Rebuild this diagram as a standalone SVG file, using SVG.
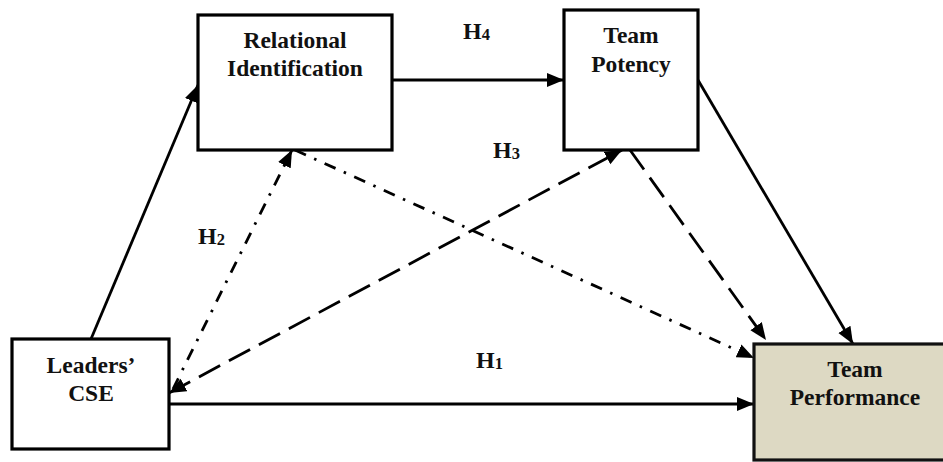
<svg xmlns="http://www.w3.org/2000/svg" width="943" height="462" viewBox="0 0 943 462">
<defs>
<marker id="ah" markerUnits="userSpaceOnUse" markerWidth="18" markerHeight="15" refX="17" refY="7" orient="auto-start-reverse" viewBox="0 0 18 14">
<path d="M0,0 L17,7 L0,14 z" fill="#000"/>
</marker>
<style>
.box{fill:#fff;stroke:#000;stroke-width:3.2}
.perf{fill:#DDD9C3;stroke:#111;stroke-width:3.2}
.t{font-family:"Liberation Serif","Times New Roman",serif;font-weight:bold;font-size:23.5px;fill:#111;text-anchor:middle}
.h{font-family:"Liberation Serif","Times New Roman",serif;font-weight:bold;font-size:24px;fill:#111}
.sub{font-size:16.5px}
.c{fill:none;stroke:#000;stroke-width:2.8}
.solid{marker-end:url(#ah)}
.dashdot{stroke-dasharray:12 9 2.5 9;marker-end:url(#ah)}
.dash{stroke-dasharray:24 10;marker-end:url(#ah)}
</style>
</defs>
<rect width="943" height="462" fill="#fff"/>
<g id="connectors">
<line class="c solid" x1="91" y1="339" x2="198" y2="85"/>
<line class="c solid" x1="392" y1="80" x2="564" y2="80"/>
<line class="c solid" x1="698" y1="80" x2="853" y2="344"/>
<line class="c solid" x1="169" y1="404" x2="754" y2="404"/>
<line class="c dashdot" x1="173" y1="389" x2="292" y2="150"/>
<line class="c dashdot" x1="295" y1="150" x2="754" y2="358"/>
<line class="c dash" x1="169" y1="393" x2="622" y2="150" style="marker-start:url(#ah)"/>
<line class="c dash" x1="630" y1="150" x2="766" y2="340"/>
</g>
<g id="labels">
<text class="h" x="463" y="39">H<tspan class="sub" dy="1">4</tspan></text>
<text class="h" x="493" y="158">H<tspan class="sub" dy="1">3</tspan></text>
<text class="h" x="198" y="244">H<tspan class="sub" dy="1">2</tspan></text>
<text class="h" x="476" y="368">H<tspan class="sub" dy="1">1</tspan></text>
</g>
<g id="relational-identification">
<rect class="box" x="198" y="15" width="194" height="135"/>
<text class="t" x="295" y="48">Relational</text>
<text class="t" x="295" y="76">Identification</text>
</g>
<g id="team-potency">
<rect class="box" x="564" y="10" width="134" height="140"/>
<text class="t" x="631" y="43">Team</text>
<text class="t" x="631" y="72">Potency</text>
</g>
<g id="leaders-cse">
<rect class="box" x="12" y="339" width="157" height="110"/>
<text class="t" x="91" y="373">Leaders’</text>
<text class="t" x="91" y="401">CSE</text>
</g>
<g id="team-performance">
<rect class="perf" x="754" y="344" width="200" height="116"/>
<text class="t" x="855" y="377">Team</text>
<text class="t" x="855" y="405">Performance</text>
</g>
</svg>
